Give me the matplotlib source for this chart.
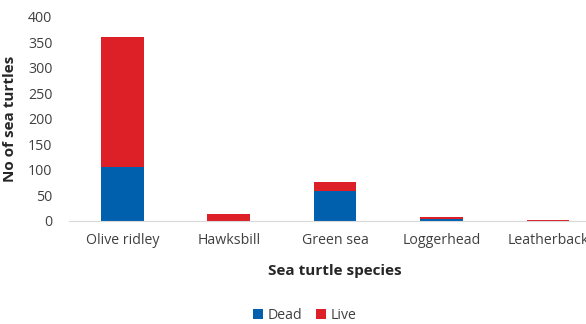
import matplotlib.pyplot as plt

species = ["Olive ridley", "Hawksbill", "Green sea", "Loggerhead", "Leatherback"]
dead = [106, 0, 58, 3, 0]
live = [254, 14, 19, 5, 2]

plt.rcParams["font.family"] = ["Open Sans", "DejaVu Sans"]

fig = plt.figure(figsize=(5.86, 3.24), dpi=100)
ax = fig.add_axes([0.118, 0.318, 0.908, 0.63])

x = range(len(species))
ax.bar(x, dead, width=0.4, color="#0060ad", label="Dead")
ax.bar(x, live, width=0.4, bottom=dead, color="#dd2028", label="Live")

ax.set_ylim(0, 400)
ax.set_yticks(range(0, 401, 50))
ax.set_xlim(-0.5, len(species) - 0.5)
ax.set_xticks(list(x))
ax.set_xticklabels(species)
ax.tick_params(axis="both", length=0, labelsize=10.2, colors="#404040")
ax.tick_params(axis="y", pad=12)
ax.tick_params(axis="x", pad=9)

for s in ["top", "right", "left"]:
    ax.spines[s].set_visible(False)
ax.spines["bottom"].set_color("#d9d9d9")

ax.set_ylabel("No of sea turtles", fontsize=11, fontweight="bold", color="#262626", labelpad=8)
ax.set_xlabel("Sea turtle species", fontsize=11, fontweight="bold", color="#262626", labelpad=11)

fig.legend(loc="lower center", bbox_to_anchor=(0.52, -0.035), ncol=2, frameon=False,
           fontsize=10.2, handlelength=0.7, handleheight=0.7, handletextpad=0.3,
           columnspacing=1.0, labelcolor="#404040")

fig.savefig("out.png", dpi=100)
